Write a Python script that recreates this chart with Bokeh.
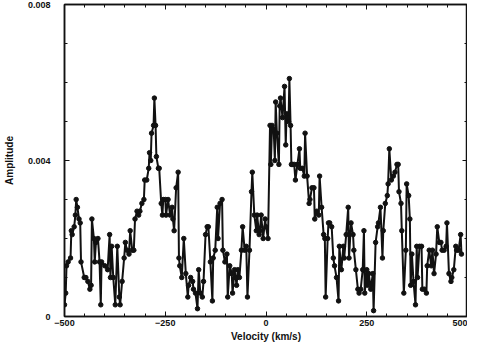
from bokeh.plotting import figure
from bokeh.models import Range1d, FixedTicker, LinearAxis
from bokeh.embed import file_html
from bokeh.resources import INLINE

velocity = [-500, -497, -495, -491, -485, -483, -481, -476, -473, -471, -468, -464, -461, -459,
            -451, -447, -442, -437, -434, -432, -427, -425, -422, -417, -413, -410, -408, -400,
            -393, -388, -386, -383, -379, -374, -369, -364, -362, -357, -352, -349, -345, -340,
            -337, -332, -328, -325, -320, -316, -313, -308, -303, -301, -296, -291, -289, -286,
            -284, -279, -277, -274, -272, -267, -265, -260, -257, -255, -250, -248, -243, -238,
            -233, -231, -228, -223, -218, -216, -214, -209, -204, -199, -194, -192, -187, -182,
            -180, -175, -170, -167, -163, -158, -155, -150, -146, -143, -138, -133, -131, -126,
            -121, -119, -114, -109, -107, -102, -97, -95, -90, -85, -83, -78, -73, -70, -66,
            -61, -58, -53, -49, -46, -41, -36, -34, -29, -24, -22, -17, -15, -12, -7, -2, 0,
            5, 10, 12, 15, 19, 22, 24, 27, 32, 34, 36, 41, 46, 49, 51, 56, 58, 61, 63, 66, 70,
            73, 78, 83, 85, 90, 95, 97, 102, 107, 109, 114, 119, 121, 126, 131, 133, 138, 143,
            146, 148, 153, 155, 158, 163, 167, 170, 175, 180, 182, 187, 192, 194, 199, 204,
            206, 211, 216, 218, 223, 228, 231, 235, 240, 243, 245, 250, 252, 255, 260, 265,
            267, 272, 277, 279, 284, 289, 291, 296, 301, 303, 306, 311, 316, 320, 325, 328,
            330, 335, 337, 342, 347, 349, 354, 357, 359, 362, 366, 371, 374, 376, 381, 386,
            388, 393, 398, 400, 405, 410, 413, 417, 422, 425, 430, 434, 437, 442, 447, 449,
            454, 459, 461, 466, 471, 473, 478, 483, 485]

amplitude = [0.0003, 0.0006, 0.0013, 0.0014, 0.0015, 0.0022, 0.0021, 0.0023, 0.0026, 0.0030,
             0.0028, 0.0025, 0.0024, 0.0014, 0.0010, 0.0010, 0.0009, 0.0007, 0.0008, 0.0025,
             0.0020, 0.0014, 0.0019, 0.0020, 0.0014, 0.0003, 0.0014, 0.0013, 0.0012, 0.0021,
             0.0010, 0.0018, 0.0010, 0.0003, 0.0018, 0.0005, 0.0003, 0.0009, 0.0015, 0.0019,
             0.0017, 0.0016, 0.0022, 0.0017, 0.0017, 0.0025, 0.0027, 0.0026, 0.0027, 0.0029,
             0.0030, 0.0035, 0.0035, 0.0038, 0.0042, 0.0040, 0.0047, 0.0049, 0.0056, 0.0049,
             0.0041, 0.0038, 0.0038, 0.0029, 0.0026, 0.0030, 0.0030, 0.0026, 0.0030, 0.0026,
             0.0028, 0.0025, 0.0022, 0.0033, 0.0037, 0.0015, 0.0013, 0.0010, 0.0020, 0.0011,
             0.0005, 0.0008, 0.0010, 0.0009, 0.0007, 0.0006, 0.0002, 0.0012, 0.0006, 0.0005,
             0.0009, 0.0021, 0.0023, 0.0023, 0.0014, 0.0004, 0.0015, 0.0017, 0.0028, 0.0020,
             0.0029, 0.0030, 0.0017, 0.0014, 0.0016, 0.0005, 0.0013, 0.0011, 0.0006, 0.0012,
             0.0008, 0.0012, 0.0010, 0.0017, 0.0023, 0.0017, 0.0018, 0.0005, 0.0017, 0.0032,
             0.0037, 0.0026, 0.0022, 0.0026, 0.0021, 0.0022, 0.0026, 0.0020, 0.0025, 0.0023,
             0.0020, 0.0049, 0.0039, 0.0049, 0.0048, 0.0040, 0.0055, 0.0047, 0.0039, 0.0054,
             0.0056, 0.0051, 0.0059, 0.0044, 0.0052, 0.0050, 0.0061, 0.0049, 0.0039, 0.0039,
             0.0039, 0.0035, 0.0039, 0.0043, 0.0038, 0.0038, 0.0036, 0.0047, 0.0036, 0.0029,
             0.0030, 0.0033, 0.0033, 0.0025, 0.0027, 0.0026, 0.0036, 0.0028, 0.0021, 0.0020,
             0.0005, 0.0020, 0.0024, 0.0024, 0.0023, 0.0015, 0.0013, 0.0010, 0.0004, 0.0018,
             0.0012, 0.0018, 0.0015, 0.0021, 0.0028, 0.0015, 0.0024, 0.0021, 0.0017, 0.0012,
             0.0007, 0.0006, 0.0007, 0.0012, 0.0022, 0.0006, 0.0012, 0.0008, 0.0011, 0.0007,
             0.0011, 0.00015, 0.0019, 0.0023, 0.0024, 0.0028, 0.0015, 0.0022, 0.0029, 0.0031,
             0.0034, 0.0043, 0.0035, 0.0036, 0.0037, 0.0039, 0.0039, 0.0032, 0.0029, 0.0022,
             0.0006, 0.0017, 0.0034, 0.0031, 0.0025, 0.0008, 0.0016, 0.0009, 0.0003, 0.0018,
             0.0010, 0.0018, 0.0018, 0.0007, 0.0007, 0.0006, 0.0013, 0.0017, 0.0013, 0.0017,
             0.0011, 0.0016, 0.0023, 0.0019, 0.0019, 0.0017, 0.0017, 0.0018, 0.0024, 0.0011,
             0.0009, 0.0010, 0.0012, 0.0018, 0.0017, 0.0017, 0.0021, 0.0016]

x_ticks = [-500, -250, 0, 250, 500]
x_minor = [-450, -400, -350, -300, -200, -150, -100, -50, 50, 100, 150, 200, 300, 350, 400, 450]
y_ticks = [0, 0.004, 0.008]
y_minor = [0.001, 0.002, 0.003, 0.005, 0.006, 0.007]
y_tick_labels = {0: "0", 0.004: "0.004", 0.008: "0.008"}

FONT = "Liberation Sans"
INK = "#111111"

p = figure(width=467, height=344, output_backend="svg", toolbar_location=None,
           x_range=Range1d(-500, 500), y_range=Range1d(0, 0.008),
           min_border_left=55, min_border_right=0, min_border_top=4, min_border_bottom=0)
p.background_fill_color = "white"
p.border_fill_color = "white"
p.xgrid.visible = False
p.ygrid.visible = False
p.outline_line_color = INK
p.outline_line_width = 1.5

p.line(velocity, amplitude, line_color=INK, line_width=2)
p.scatter(velocity, amplitude, size=4.5, fill_color=INK, line_color=INK)

def style_axis(ax):
    ax.major_tick_in = 5
    ax.major_tick_out = 0
    ax.minor_tick_in = 3
    ax.minor_tick_out = 0
    ax.axis_line_color = INK
    ax.axis_line_width = 1.5
    ax.major_tick_line_color = INK
    ax.minor_tick_line_color = INK
    ax.major_label_text_font = FONT
    ax.major_label_text_font_style = "bold"
    ax.major_label_text_font_size = "9px"
    ax.major_label_text_color = INK
    ax.axis_label_text_font = FONT
    ax.axis_label_text_font_style = "bold"
    ax.axis_label_text_font_size = "10px"
    ax.axis_label_text_color = INK

xax = p.xaxis[0]
xax.ticker = FixedTicker(ticks=x_ticks, minor_ticks=x_minor)
xax.axis_label = "Velocity (km/s)"
style_axis(xax)
xax.major_label_standoff = 3
xax.axis_label_standoff = 2

yax = p.yaxis[0]
yax.ticker = FixedTicker(ticks=y_ticks, minor_ticks=y_minor)
yax.axis_label = "Amplitude"
yax.major_label_overrides = y_tick_labels
style_axis(yax)
yax.major_label_standoff = 14
yax.axis_label_standoff = 10

top = LinearAxis(ticker=FixedTicker(ticks=x_ticks, minor_ticks=x_minor))
style_axis(top)
top.major_label_overrides = {t: "" for t in x_ticks}
top.major_label_standoff = 0
p.add_layout(top, "above")

right = LinearAxis(ticker=FixedTicker(ticks=y_ticks, minor_ticks=y_minor))
style_axis(right)
right.major_label_overrides = {t: "" for t in y_ticks}
right.major_label_standoff = 0
p.add_layout(right, "right")

open("out.html", "w").write(file_html(p, INLINE))
